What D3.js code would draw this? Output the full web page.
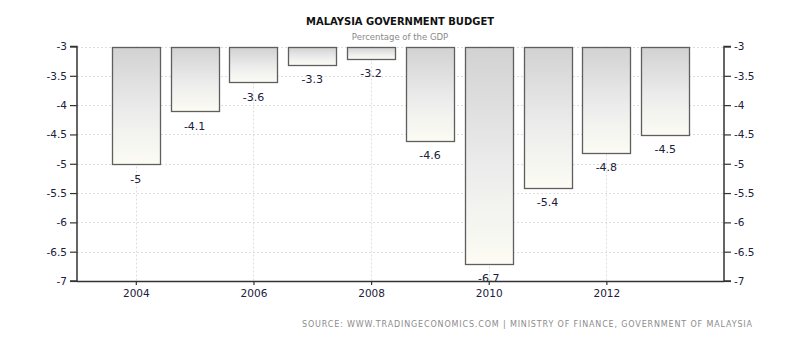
<!DOCTYPE html>
<html><head><meta charset="utf-8">
<script src="https://cdn.jsdelivr.net/npm/d3@7"></script>
<style>body{margin:0;background:#fff}svg{display:block}</style>
</head><body><svg id="c" width="800" height="341"></svg>
<script>
const years = [2004,2005,2006,2007,2008,2009,2010,2011,2012,2013];
const values = [-5,-4.1,-3.6,-3.3,-3.2,-4.6,-6.7,-5.4,-4.8,-4.5];
const yTicks = [-3,-3.5,-4,-4.5,-5,-5.5,-6,-6.5,-7];
const xTicks = [2004,2006,2008,2010,2012];
const title = "MALAYSIA GOVERNMENT BUDGET";
const subtitle = "Percentage of the GDP";
const source = "SOURCE: WWW.TRADINGECONOMICS.COM | MINISTRY OF FINANCE, GOVERNMENT OF MALAYSIA";

const svg = d3.select("#c");
const L = 77, R = 724, T = 46.5, B = 281;
const x = d3.scaleLinear().domain([2003, 2014]).range([L, R]);
const y = d3.scaleLinear().domain([-3, -7]).range([T, B]);
const fmt = d => String(d).replace("−","-");
const txt = "#20203c";
const font = "DejaVu Sans, Verdana, sans-serif";

const defs = svg.append("defs");
const g = defs.append("linearGradient").attr("id","bg").attr("x1",0).attr("y1",0).attr("x2",0).attr("y2",1);
g.append("stop").attr("offset","0%").attr("stop-color","#d2d2d2");
g.append("stop").attr("offset","55%").attr("stop-color","#ececec");
g.append("stop").attr("offset","100%").attr("stop-color","#fcfcf4");

// grid
svg.append("g").selectAll("line").data(yTicks.slice(0,-1)).join("line")
  .attr("x1",L).attr("x2",R).attr("y1",d=>Math.round(y(d))+0.5).attr("y2",d=>Math.round(y(d))+0.5)
  .attr("stroke","#dedede").attr("stroke-dasharray","2,2");
svg.append("g").selectAll("line").data(xTicks).join("line")
  .attr("x1",d=>Math.round(x(d))+0.5).attr("x2",d=>Math.round(x(d))+0.5).attr("y1",T).attr("y2",B)
  .attr("stroke","#dedede").attr("stroke-dasharray","2,2");

// bars
const bw = 48;
svg.append("g").selectAll("rect").data(years).join("rect")
  .attr("x",(d)=>Math.round(x(d)-bw/2)+0.5)
  .attr("y",Math.round(y(-3))+0.5)
  .attr("width",bw)
  .attr("height",(d,i)=>Math.round(y(values[i])-y(-3)))
  .attr("fill","url(#bg)").attr("stroke","#5e5e5e").attr("stroke-width",1.3);

// value labels
svg.append("g").selectAll("text").data(years).join("text")
  .attr("x",d=>x(d)).attr("y",(d,i)=>y(values[i])+19)
  .attr("text-anchor","middle").attr("font-family",font).attr("font-size",11).attr("fill",txt)
  .text((d,i)=>fmt(values[i]));

// axes
const left = svg.append("g").attr("transform",`translate(${L},0)`)
  .call(d3.axisLeft(y).tickValues(yTicks).tickSize(7).tickPadding(3).tickFormat(fmt));
const right = svg.append("g").attr("transform",`translate(${R},0)`)
  .call(d3.axisRight(y).tickValues(yTicks).tickSize(7).tickPadding(3).tickFormat(fmt));
const bottom = svg.append("g").attr("transform",`translate(0,${B})`)
  .call(d3.axisBottom(x).tickValues(xTicks).tickSize(4).tickPadding(5).tickFormat(d3.format("d")));
[left,right,bottom].forEach(a=>{
  a.select(".domain").attr("stroke","#333").attr("stroke-width",1.5);
  a.selectAll(".tick line").attr("stroke","#333").attr("stroke-width",1.2);
  a.selectAll("text").attr("font-family",font).attr("font-size",10.5).attr("fill",txt);
});
bottom.select(".domain").attr("d",`M${L},0.5H${R}`);
left.select(".domain").attr("d",`M-7,${T}H0V${B}H-7`);
right.select(".domain").attr("d",`M7,${T}H0V${B}H7`);

// titles
svg.append("text").attr("x",400).attr("y",25).attr("text-anchor","middle")
  .attr("font-family",font).attr("font-weight","bold").attr("font-size",10.5).attr("fill","#111")
  .attr("textLength",188).attr("lengthAdjust","spacingAndGlyphs").text(title);
svg.append("text").attr("x",400).attr("y",40).attr("text-anchor","middle")
  .attr("font-family",font).attr("font-size",8.5).attr("fill","#8a8a8a").text(subtitle);
svg.append("text").attr("x",302).attr("y",327)
  .attr("font-family",font).attr("font-size",8).attr("fill","#8c8c8c")
  .attr("textLength",450).attr("lengthAdjust","spacing").text(source);
</script></body></html>
